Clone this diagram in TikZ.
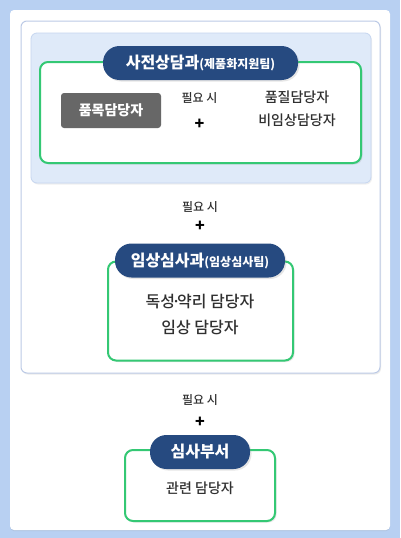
\documentclass[tikz,border=0pt]{standalone}
\usepackage{fontspec}
\setmainfont{Noto Sans CJK KR}
\newfontfamily\medfont{Noto Sans CJK KR Medium}
\usetikzlibrary{shadows}
\definecolor{bgblue}{HTML}{B8D0F2}
\definecolor{panelline}{HTML}{BCCAE6}
\definecolor{lightbox}{HTML}{DFEAF9}
\definecolor{lightline}{HTML}{C6D6F0}
\definecolor{greenline}{HTML}{34C874}
\definecolor{navy}{HTML}{264A80}
\definecolor{grayb}{HTML}{676767}
\definecolor{txt}{HTML}{303030}
\tikzset{
  greenbox/.style={draw=greenline, line width=2pt, fill=white, rounded corners=8pt,
    inner sep=0pt, drop shadow={shadow xshift=1.5pt, shadow yshift=-1.5pt, opacity=0.18}},
  pill/.style={fill=navy, text=white, rounded corners=16.5pt, inner sep=0pt,
    drop shadow={shadow xshift=1.5pt, shadow yshift=-1.5pt, opacity=0.2}},
  body/.style={text=txt, font=\medfont\fontsize{14}{16}\selectfont, inner sep=0pt},
  bigbody/.style={text=txt, font=\medfont\fontsize{16}{18}\selectfont, inner sep=0pt},
  small/.style={text=txt, font=\medfont\fontsize{12}{14}\selectfont, inner sep=0pt},
  plus/.style={text=black, font=\bfseries\fontsize{16}{16}\selectfont, inner sep=0pt},
}
\newcommand{\ttl}[1]{{\bfseries\fontsize{16}{18}\selectfont #1}}
\newcommand{\sttl}[1]{{\bfseries\fontsize{12}{14}\selectfont #1}}
\begin{document}
\begin{tikzpicture}[x=1pt,y=-1pt]
\useasboundingbox (0,0) rectangle (400,538);
\fill[bgblue] (0,0) rectangle (400,538);
% white outer panel
\node[fill=white, rounded corners=4pt, minimum width=380pt, minimum height=520pt, inner sep=0pt,
  drop shadow={shadow xshift=0pt, shadow yshift=-1pt, opacity=0.15}] (outer) at (200,270) {};
% inner bordered panel
\node[draw=panelline, fill=white, line width=1pt, rounded corners=6pt, minimum width=359pt, minimum height=352pt, inner sep=0pt,
  drop shadow={shadow xshift=1pt, shadow yshift=-1.5pt, opacity=0.15}] (inner) at (200.5,197) {};
% light blue box
\node[fill=lightbox, draw=lightline, line width=0.8pt, rounded corners=6pt, minimum width=340pt, minimum height=150pt, inner sep=0pt,
  drop shadow={shadow xshift=1pt, shadow yshift=-1.5pt, opacity=0.12}] (lb) at (201,108) {};
% green box 1
\node[greenbox, minimum width=321pt, minimum height=101pt] (g1) at (200.5,112.5) {};
\node[pill, minimum width=195pt, minimum height=34pt] (p1) at (200.5,63) {\ttl{사전상담과}\sttl{(제품화지원팀)}};
\node[fill=grayb, rounded corners=3pt, minimum width=100pt, minimum height=35pt, inner sep=0pt,
  text=white, font=\bfseries\fontsize{14}{16}\selectfont] (pm) at (111,110.5) {품목담당자};
\node[small] (n1) at (199.5,98) {필요 시};
\node[plus] (pl1) at (199.5,124) {+};
\node[body] (q1) at (297,97) {품질담당자};
\node[body] (q2) at (297,120) {비임상담당자};
% between
\node[small] (n2) at (200,207) {필요 시};
\node[plus] (pl2) at (200,226) {+};
% green box 2
\node[greenbox, minimum width=185pt, minimum height=99pt] (g2) at (200.5,311) {};
\node[pill, minimum width=170pt, minimum height=34pt] (p2) at (200,260.5) {\ttl{임상심사과}\sttl{(임상심사팀)}};
\node[bigbody] (t1) at (200,302) {독성\kern-3.5pt·\kern-3.5pt약리 담당자};
\node[bigbody] (t2) at (200,328) {임상 담당자};
% bottom
\node[small] (n3) at (200,400) {필요 시};
\node[plus] (pl3) at (200,422) {+};
\node[greenbox, minimum width=150pt, minimum height=71pt] (g3) at (200,485.5) {};
\node[pill, minimum width=100pt, minimum height=34pt] (p3) at (200,452) {\ttl{심사부서}};
\node[body] (r1) at (200,488) {관련 담당자};
\end{tikzpicture}
\end{document}
